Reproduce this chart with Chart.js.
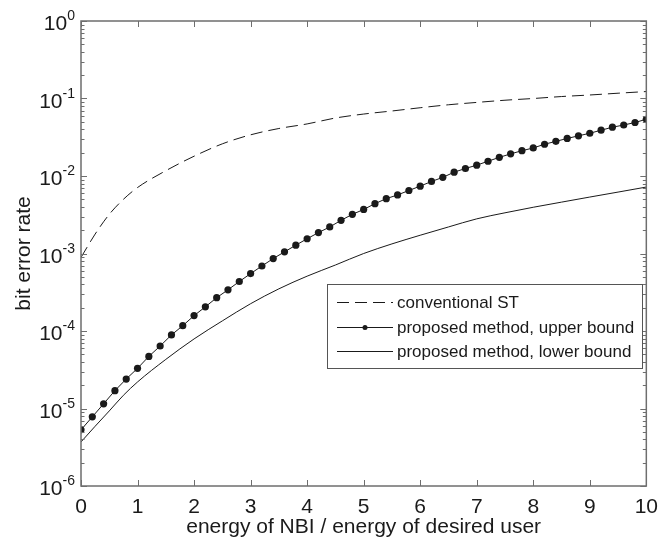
<!DOCTYPE html>
<html>
<head>
<meta charset="utf-8">
<script src="https://cdn.jsdelivr.net/npm/chart.js@4.4.1/dist/chart.umd.min.js"></script>
<style>
  html, body { margin: 0; padding: 0; background: #fff; }
  #wrap { width: 667px; height: 544px; }
</style>
</head>
<body>
<div id="wrap"><canvas id="ber"></canvas></div>
<script>
// x = energy of NBI / energy of desired user
const upperX = [0, 0.2, 0.4, 0.6, 0.8, 1, 1.2, 1.4, 1.6, 1.8, 2, 2.2, 2.4, 2.6, 2.8, 3, 3.2, 3.4, 3.6, 3.8,
  4, 4.2, 4.4, 4.6, 4.8, 5, 5.2, 5.4, 5.6, 5.8, 6, 6.2, 6.4, 6.6, 6.8, 7, 7.2, 7.4, 7.6, 7.8,
  8, 8.2, 8.4, 8.6, 8.8, 9, 9.2, 9.4, 9.6, 9.8, 10];
const upperBer = [5.3e-6, 7.8e-6, 1.15e-5, 1.7e-5, 2.4e-5, 3.3e-5, 4.7e-5, 6.4e-5, 8.9e-5, 1.17e-4,
  1.58e-4, 2.05e-4, 2.69e-4, 3.4e-4, 4.35e-4, 5.5e-4, 6.9e-4, 8.6e-4, 1.05e-3, 1.28e-3,
  1.55e-3, 1.86e-3, 2.2e-3, 2.68e-3, 3.2e-3, 3.7e-3, 4.4e-3, 5.1e-3, 5.7e-3, 6.5e-3,
  7.4e-3, 8.5e-3, 9.6e-3, 1.12e-2, 1.25e-2, 1.38e-2, 1.55e-2, 1.74e-2, 1.93e-2, 2.12e-2,
  2.3e-2, 2.57e-2, 2.8e-2, 3.05e-2, 3.3e-2, 3.56e-2, 3.9e-2, 4.26e-2, 4.55e-2, 4.9e-2, 5.4e-2];

const curveX = [0, 0.25, 0.5, 0.75, 1, 1.5, 2, 2.5, 3, 3.5, 4, 4.5, 5, 5.5, 6, 6.5, 7, 7.5, 8, 8.5, 9, 9.5, 10];
const lowerBer = [3.7e-6, 5.9e-6, 9.3e-6, 1.48e-5, 2.2e-5, 4.3e-5, 7.9e-5, 1.35e-4, 2.25e-4, 3.5e-4,
  5.1e-4, 7.1e-4, 1.0e-3, 1.33e-3, 1.72e-3, 2.2e-3, 2.8e-3, 3.35e-3, 3.95e-3, 4.6e-3, 5.35e-3, 6.2e-3, 7.2e-3];
const conventionalBer = [8.9e-4, 1.78e-3, 3.2e-3, 5.0e-3, 7.1e-3, 1.17e-2, 1.8e-2, 2.6e-2, 3.4e-2, 4.1e-2,
  4.7e-2, 5.6e-2, 6.3e-2, 6.9e-2, 7.6e-2, 8.3e-2, 8.9e-2, 9.5e-2, 1.0e-1, 1.06e-1, 1.11e-1, 1.17e-1, 1.23e-1];

const xTicks = [0, 1, 2, 3, 4, 5, 6, 7, 8, 9, 10];
const yExponents = [0, -1, -2, -3, -4, -5, -6];

const legendNames = ["conventional ST", "proposed method, upper bound", "proposed method, lower bound"];

const FONT = '"Liberation Sans", Arial, Helvetica, sans-serif';
const INK = '#1a1a1a';
const AXIS = '#6e6e6e';

const toPoints = (xs, ys) => xs.map((x, i) => ({ x: x, y: ys[i] }));

// MATLAB style box, inward ticks, 10^n labels and the inset legend
const matlabAxes = {
  id: 'matlabAxes',
  afterDatasetsDraw(chart) {
    const { ctx, chartArea: a } = chart;
    const xs = chart.scales.x, ys = chart.scales.y;
    ctx.save();
    ctx.strokeStyle = AXIS;
    ctx.lineWidth = 1.5;
    ctx.strokeRect(a.left, a.top, a.right - a.left, a.bottom - a.top);

    ctx.lineWidth = 1;
    ctx.beginPath();
    xTicks.forEach(t => {
      const px = Math.round(xs.getPixelForValue(t)) + 0.5;
      ctx.moveTo(px, a.bottom); ctx.lineTo(px, a.bottom - 6);
      ctx.moveTo(px, a.top); ctx.lineTo(px, a.top + 6);
    });
    yExponents.forEach(e => {
      const py = Math.round(ys.getPixelForValue(Math.pow(10, e))) + 0.5;
      ctx.moveTo(a.left, py); ctx.lineTo(a.left + 6, py);
      ctx.moveTo(a.right, py); ctx.lineTo(a.right - 6, py);
      if (e > -6) {
        for (let m = 2; m <= 9; m++) {
          const pm = Math.round(ys.getPixelForValue(m * Math.pow(10, e - 1))) + 0.5;
          ctx.moveTo(a.left, pm); ctx.lineTo(a.left + 3.5, pm);
          ctx.moveTo(a.right, pm); ctx.lineTo(a.right - 3.5, pm);
        }
      }
    });
    ctx.stroke();

    // y tick labels with superscript exponent
    ctx.fillStyle = INK;
    ctx.textBaseline = 'alphabetic';
    yExponents.forEach(e => {
      const py = ys.getPixelForValue(Math.pow(10, e));
      const right = a.left - 6;
      ctx.font = '14px ' + FONT;
      const sup = String(e);
      const supW = ctx.measureText(sup).width;
      ctx.textAlign = 'left';
      ctx.fillText(sup, right - supW, py - 1);
      ctx.font = '21px ' + FONT;
      ctx.textAlign = 'right';
      ctx.fillText('10', right - supW, py + 9);
    });

    // legend
    const box = { l: 327, t: 284, r: 642, b: 368 };
    ctx.fillStyle = '#fff';
    ctx.fillRect(box.l, box.t, box.r - box.l, box.b - box.t);
    ctx.strokeStyle = '#555';
    ctx.lineWidth = 1;
    ctx.strokeRect(box.l + 0.5, box.t + 0.5, box.r - box.l, box.b - box.t);
    const rowY = [302, 327, 351];
    ctx.font = '17px ' + FONT;
    ctx.textAlign = 'left';
    ctx.textBaseline = 'middle';
    chart.data.datasets.forEach((ds, i) => {
      const y = rowY[i] + 0.5;
      ctx.strokeStyle = ds.borderColor;
      ctx.lineWidth = ds.borderWidth;
      ctx.setLineDash(ds.borderDash || []);
      ctx.beginPath();
      ctx.moveTo(337, y); ctx.lineTo(393, y);
      ctx.stroke();
      ctx.setLineDash([]);
      if (ds.pointRadius > 0) {
        ctx.fillStyle = ds.pointBackgroundColor;
        ctx.beginPath();
        ctx.arc(365, y, 2.5, 0, Math.PI * 2);
        ctx.fill();
      }
      ctx.fillStyle = INK;
      ctx.fillText(legendNames[i], 397, y + 1);
    });
    ctx.restore();
  }
};

const data = {
  datasets: [
    {
      label: legendNames[0],
      data: toPoints(curveX, conventionalBer),
      borderColor: INK,
      borderWidth: 1,
      borderDash: [12, 6],
      pointRadius: 0,
      cubicInterpolationMode: 'monotone'
    },
    {
      label: legendNames[1],
      data: toPoints(upperX, upperBer),
      borderColor: INK,
      borderWidth: 1,
      pointRadius: 3.6,
      pointBackgroundColor: INK,
      pointBorderColor: INK,
      pointBorderWidth: 0
    },
    {
      label: legendNames[2],
      data: toPoints(curveX, lowerBer),
      borderColor: INK,
      borderWidth: 1,
      pointRadius: 0,
      cubicInterpolationMode: 'monotone'
    }
  ]
};

const options = {
  responsive: true,
  maintainAspectRatio: false,
  animation: false,
  devicePixelRatio: 1,
  layout: { padding: { left: 0, right: 11, top: 21, bottom: 0 } },
  plugins: { legend: { display: false }, tooltip: { enabled: false } },
  scales: {
    x: {
      type: 'linear',
      min: 0,
      max: 10,
      afterFit: (s) => { s.height = 58; },
      afterBuildTicks: (s) => { s.ticks = xTicks.map(v => ({ value: v })); },
      grid: { display: false, drawTicks: false },
      border: { display: false },
      ticks: { color: INK, padding: 9, font: { family: FONT, size: 21 }, maxRotation: 0 },
      title: {
        display: true,
        text: 'energy of NBI / energy of desired user',
        color: INK,
        font: { family: FONT, size: 21 },
        padding: { top: 0, bottom: 4 }
      }
    },
    y: {
      type: 'logarithmic',
      min: 1e-6,
      max: 1,
      afterFit: (s) => { s.width = 81; },
      grid: { display: false, drawTicks: false },
      border: { display: false },
      ticks: { display: false },
      title: {
        display: true,
        text: 'bit error rate',
        color: INK,
        font: { family: FONT, size: 21 },
        padding: { top: 12, bottom: 0 }
      }
    }
  }
};

new Chart(document.getElementById('ber').getContext('2d'), {
  type: 'line',
  data: data,
  options: options,
  plugins: [matlabAxes]
});
</script>
</body>
</html>
